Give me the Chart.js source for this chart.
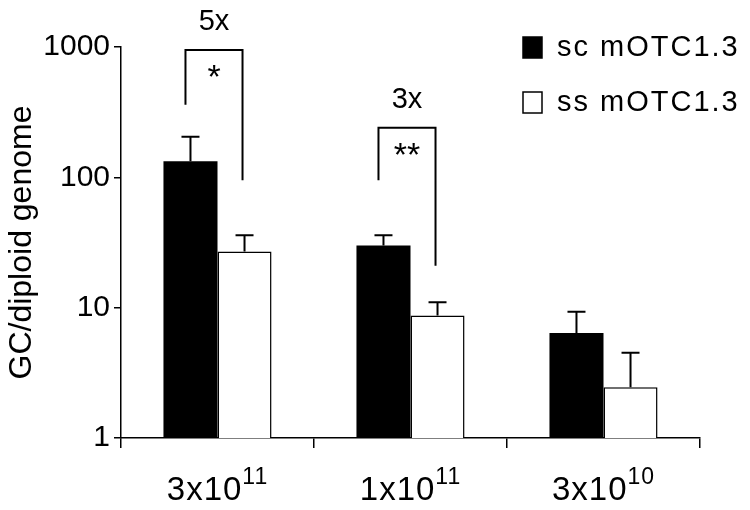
<!DOCTYPE html>
<html>
<head>
<meta charset="utf-8">
<script src="https://cdn.jsdelivr.net/npm/chart.js@4.4.1/dist/chart.umd.min.js"></script>
<style>
  html, body { margin: 0; padding: 0; background: #fff; }
</style>
</head>
<body>
<canvas id="gc_bar" width="750" height="510"></canvas>
<script>
// data
const categories = ['3x10^11', '1x10^11', '3x10^10'];
const seriesNames = ['sc mOTC1.3', 'ss mOTC1.3'];
const scValues = [133, 30, 6.4];
const scErrTop = [205, 36, 9.3];
const ssValues = [27, 8.7, 2.45];
const ssErrTop = [36, 11, 4.5];
const yTicks = [1, 10, 100, 1000];

// significance brackets (pairs of bars per group)
const foldLabels = ['5x', '3x'];
const sigLabels = ['*', '**'];
const bracketTop = [950, 240];
const bracketLeftEnd = [360, 95];
const bracketRightEnd = [95, 21];

const FONT = "'Liberation Sans', Arial, sans-serif";
const errTops = [scErrTop, ssErrTop];

const extras = {
  id: 'extras',
  afterDatasetsDraw(chart) {
    const ctx = chart.ctx;
    const y = chart.scales.y;
    const x = chart.scales.x;

    ctx.save();
    ctx.strokeStyle = '#000';
    ctx.fillStyle = '#000';

    // error bars (upper only)
    ctx.lineWidth = 2;
    chart.data.datasets.forEach((ds, d) => {
      const meta = chart.getDatasetMeta(d);
      meta.data.forEach((bar, i) => {
        const top = y.getPixelForValue(errTops[d][i]);
        ctx.beginPath();
        ctx.moveTo(bar.x, bar.y);
        ctx.lineTo(bar.x, top);
        ctx.moveTo(bar.x - 9, top);
        ctx.lineTo(bar.x + 9, top);
        ctx.stroke();
      });
    });

    // brackets
    const m0 = chart.getDatasetMeta(0), m1 = chart.getDatasetMeta(1);
    foldLabels.forEach((lab, i) => {
      const lx = m0.data[i].x - 5, rx = m1.data[i].x - 2;
      const ty = y.getPixelForValue(bracketTop[i]);
      ctx.beginPath();
      ctx.moveTo(lx, y.getPixelForValue(bracketLeftEnd[i]));
      ctx.lineTo(lx, ty);
      ctx.lineTo(rx, ty);
      ctx.lineTo(rx, y.getPixelForValue(bracketRightEnd[i]));
      ctx.stroke();
      const cx = (lx + rx) / 2;
      ctx.textAlign = 'center';
      ctx.textBaseline = 'middle';
      ctx.font = '29px ' + FONT;
      ctx.fillText(lab, cx, ty - 28);
      ctx.textBaseline = 'alphabetic';
      ctx.font = '34px ' + FONT;
      ctx.fillText(sigLabels[i], cx, ty + 38);
    });

    // x labels with superscripts
    categories.forEach((c, i) => {
      const parts = c.split('^');
      const cx = x.getPixelForValue(i);
      ctx.letterSpacing = '1px';
      ctx.font = '33px ' + FONT;
      const w1 = ctx.measureText(parts[0]).width;
      ctx.font = '23px ' + FONT;
      const w2 = ctx.measureText(parts[1]).width;
      const sx = cx - (w1 + w2) / 2;
      ctx.textAlign = 'left';
      ctx.textBaseline = 'alphabetic';
      ctx.font = '33px ' + FONT;
      ctx.fillText(parts[0], sx, 500);
      ctx.font = '23px ' + FONT;
      ctx.fillText(parts[1], sx + w1, 484);
    });

    // legend
    ctx.letterSpacing = '2px';
    ctx.font = '29px ' + FONT;
    ctx.textAlign = 'left';
    ctx.textBaseline = 'middle';
    chart.data.datasets.forEach((ds, d) => {
      const by = 37 + d * 55;
      ctx.fillStyle = ds.backgroundColor;
      ctx.fillRect(523, by, 19, 21);
      ctx.lineWidth = 1.5;
      ctx.strokeStyle = '#000';
      ctx.strokeRect(523, by, 19, 21);
      ctx.fillStyle = '#000';
      ctx.fillText(seriesNames[d], 557, by + 11);
    });
    ctx.restore();
  }
};

const gcbar = new Chart(document.getElementById('gc_bar').getContext('2d'), {
  type: 'bar',
  data: {
    labels: categories,
    datasets: [
      {
        label: seriesNames[0],
        data: scValues,
        backgroundColor: '#000',
        borderColor: '#000',
        borderWidth: 0
      },
      {
        label: seriesNames[1],
        data: ssValues,
        backgroundColor: '#fff',
        borderColor: '#000',
        borderWidth: 1.5
      }
    ]
  },
  options: {
    responsive: false,
    animation: false,
    categoryPercentage: 0.56,
    barPercentage: 1.0,
    layout: { padding: { top: 47, right: 50, left: 0, bottom: 0 } },
    plugins: {
      legend: { display: false },
      tooltip: { enabled: false }
    },
    scales: {
      x: {
        grid: { offset: true, drawOnChartArea: false, tickLength: 10, color: '#000', lineWidth: 1.5 },
        border: { color: '#000', width: 1.5 },
        ticks: { display: false },
        afterFit: s => { s.height = 72; }
      },
      y: {
        type: 'logarithmic',
        min: 1,
        max: 1000,
        afterBuildTicks: s => { s.ticks = yTicks.map(v => ({ value: v })); },
        ticks: {
          color: '#000',
          padding: 4,
          font: { family: FONT, size: 30 },
          callback: v => String(v)
        },
        grid: { drawOnChartArea: false, tickLength: 7, color: '#000', lineWidth: 1.5 },
        border: { color: '#000', width: 1.5 },
        title: {
          display: true,
          text: 'GC/diploid genome',
          color: '#000',
          font: { family: FONT, size: 32 },
          padding: { top: 3, bottom: 0 }
        },
        afterFit: s => { s.width = 121; }
      }
    }
  },
  plugins: [extras]
});
</script>
</body>
</html>
